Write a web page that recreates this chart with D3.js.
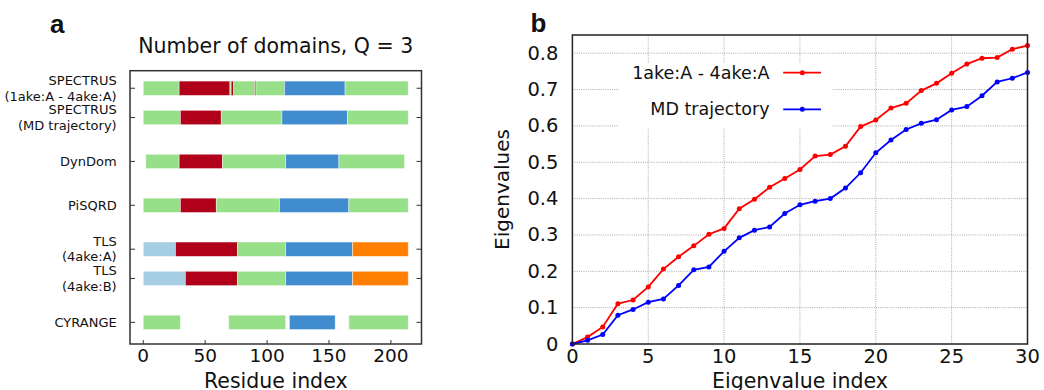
<!DOCTYPE html>
<html>
<head>
<meta charset="utf-8">
<script src="https://cdn.jsdelivr.net/npm/d3@7"></script>
<style>
  html, body { margin: 0; padding: 0; background: #fff; }
  svg { display: block; }
  text { font-family: "DejaVu Sans", sans-serif; fill: #111; }
</style>
</head>
<body>
<svg id="fig" width="1044" height="390"></svg>
<script>
// ---- Panel a: domain assignments, segments as [startResidue, endResidue, domain] ----
const methods = [
  ["SPECTRUS", "(1ake:A - 4ake:A)"],
  ["SPECTRUS", "(MD trajectory)"],
  ["DynDom"],
  ["PiSQRD"],
  ["TLS", "(4ake:A)"],
  ["TLS", "(4ake:B)"],
  ["CYRANGE"]
];
const spectrusPair = [[0, 29, "core"], [29, 70, "nmp"], [70, 71, "core"], [71, 73, "nmp"], [73, 90, "core"], [90, 91, "nmp"], [91, 114, "core"], [114, 163, "lid"], [163, 214, "core"]];
const spectrusMD   = [[0, 30, "core"], [30, 63, "nmp"], [63, 112, "core"], [112, 165, "lid"], [165, 214, "core"]];
const dynDom       = [[2, 29, "core"], [29, 64, "nmp"], [64, 115, "core"], [115, 158, "lid"], [158, 211, "core"]];
const piSQRD       = [[0, 30, "core"], [30, 59, "nmp"], [59, 110, "core"], [110, 166, "lid"], [166, 214, "core"]];
const tlsA         = [[0, 26, "tlsN"], [26, 76, "nmp"], [76, 115, "core"], [115, 169, "lid"], [169, 214, "tlsC"]];
const tlsB         = [[0, 34, "tlsN"], [34, 76, "nmp"], [76, 115, "core"], [115, 169, "lid"], [169, 214, "tlsC"]];
const cyrange      = [[0, 30, "core"], [69, 115, "core"], [118, 155, "lid"], [166, 214, "core"]];
const residueTicks = [0, 50, 100, 150, 200];

// ---- Panel b: eigenvalue spectra ----
const eigIndex = d3.range(0, 31);
const eigPair = [0, 0.019, 0.047, 0.111, 0.121, 0.157, 0.206, 0.240, 0.270, 0.302, 0.318, 0.372, 0.398, 0.431, 0.455, 0.480, 0.517, 0.521, 0.544, 0.598, 0.616, 0.649, 0.662, 0.697, 0.717, 0.745, 0.770, 0.786, 0.788, 0.811, 0.821];
const eigMD   = [0, 0.010, 0.026, 0.079, 0.095, 0.115, 0.124, 0.161, 0.204, 0.212, 0.255, 0.292, 0.313, 0.322, 0.359, 0.383, 0.393, 0.400, 0.429, 0.471, 0.526, 0.561, 0.590, 0.607, 0.617, 0.644, 0.653, 0.683, 0.721, 0.731, 0.747];
const eigXTicks = [0, 5, 10, 15, 20, 25, 30];
const eigYTicks = [0, 0.1, 0.2, 0.3, 0.4, 0.5, 0.6, 0.7, 0.8];
const seriesNames = ["1ake:A - 4ake:A", "MD trajectory"];

const svg = d3.select("#fig");

// ================= Panel a =================
{
  const rows = [spectrusPair, spectrusMD, dynDom, piSQRD, tlsA, tlsB, cyrange];
  const rowSlot = [0, 2, 5, 8, 11, 13, 16];   // vertical slot of each method row
  const domainColor = {
    core: "#98df8a", nmp: "#b0001a", lid: "#418cce", tlsN: "#a6cee3", tlsC: "#ff7f00"
  };
  const L = 130, R = 421.5, T = 70.7, B = 344;
  const x = d3.scaleLinear().domain([-10.7, 224.7]).range([L, R]);
  const y = d3.scaleLinear().domain([-1.2, 17.48]).range([T, B]);
  const g = svg.append("g");

  rows.forEach((segs, i) => {
    g.selectAll(null).data(segs).enter().append("rect")
      .attr("x", d => x(d[0]))
      .attr("width", d => x(d[1]) - x(d[0]))
      .attr("y", y(rowSlot[i] - 0.49))
      .attr("height", y(rowSlot[i] + 0.49) - y(rowSlot[i] - 0.49))
      .attr("fill", d => domainColor[d[2]])
      .attr("stroke", "#fff").attr("stroke-opacity", 0.55).attr("stroke-width", 0.8);
  });

  // frame
  g.append("rect").attr("x", L).attr("y", T).attr("width", R - L).attr("height", B - T)
    .attr("fill", "none").attr("stroke", "#333").attr("stroke-width", 1.5);

  // inward ticks
  rowSlot.forEach(s => {
    g.append("line").attr("x1", L).attr("x2", L + 5).attr("y1", y(s)).attr("y2", y(s)).attr("stroke", "#333");
    g.append("line").attr("x1", R - 5).attr("x2", R).attr("y1", y(s)).attr("y2", y(s)).attr("stroke", "#333");
  });
  residueTicks.forEach(t => {
    g.append("line").attr("x1", x(t)).attr("x2", x(t)).attr("y1", B - 4).attr("y2", B).attr("stroke", "#333");
    g.append("text").attr("x", x(t)).attr("y", 361.7).attr("text-anchor", "middle")
      .attr("font-size", 18.5).text(t);
  });

  // method labels
  methods.forEach((lines, i) => {
    const cy = y(rowSlot[i]);
    const lh = 15.6;
    const t = g.append("text").attr("text-anchor", "end").attr("font-size", 13);
    lines.forEach((ln, k) => {
      t.append("tspan").attr("x", 116.7)
        .attr("y", cy + (k - (lines.length - 1) / 2) * lh)
        .attr("dominant-baseline", "central").text(ln);
    });
  });

  g.append("text").attr("x", (L + R) / 2).attr("y", 53).attr("text-anchor", "middle")
    .attr("font-size", 20.5).text("Number of domains, Q = 3");
  g.append("text").attr("x", (L + R) / 2).attr("y", 387.5).attr("text-anchor", "middle")
    .attr("font-size", 20.5).text("Residue index");
  g.append("text").attr("x", 50).attr("y", 33).attr("font-size", 26).attr("font-weight", "bold")
    .style("font-family", "'Liberation Sans', Arial, sans-serif").text("a");
}

// ================= Panel b =================
{
  const L = 572.4, R = 1027.5, T = 35, B = 344;
  const x = d3.scaleLinear().domain([0, 30]).range([L, R]);
  const y = d3.scaleLinear().domain([0, 0.85]).range([B, T]);
  const g = svg.append("g");
  const gridStyle = sel => sel.attr("stroke", "#aaa").attr("stroke-width", 1).attr("stroke-dasharray", "1,1.2");

  g.selectAll(null).data(eigXTicks.slice(1, -1)).enter().append("line")
    .attr("x1", d => x(d)).attr("x2", d => x(d)).attr("y1", T).attr("y2", B).call(gridStyle);
  g.selectAll(null).data(eigYTicks.slice(1)).enter().append("line")
    .attr("x1", L).attr("x2", R).attr("y1", d => y(d)).attr("y2", d => y(d)).call(gridStyle);

  const series = [
    { name: seriesNames[0], values: eigPair, color: "#ff0000" },
    { name: seriesNames[1], values: eigMD, color: "#0000ff" }
  ];
  const line = d3.line().x((d, i) => x(eigIndex[i])).y(d => y(d));
  series.forEach(s => {
    g.append("path").attr("d", line(s.values)).attr("fill", "none")
      .attr("stroke", s.color).attr("stroke-width", 1.8);
    g.selectAll(null).data(s.values).enter().append("circle")
      .attr("cx", (d, i) => x(eigIndex[i])).attr("cy", d => y(d)).attr("r", 2.5)
      .attr("fill", s.color);
  });

  // legend
  g.append("rect").attr("x", 618.5).attr("y", 63).attr("width", 214).attr("height", 65).attr("fill", "#fff");
  series.forEach((s, i) => {
    const cy = 72.7 + i * 36.6;
    g.append("text").attr("x", 769.6).attr("y", cy).attr("text-anchor", "end")
      .attr("dominant-baseline", "central").attr("font-size", 17.5).text(s.name);
    g.append("line").attr("x1", 783.2).attr("x2", 821).attr("y1", cy).attr("y2", cy)
      .attr("stroke", s.color).attr("stroke-width", 1.8);
    g.append("circle").attr("cx", 802.3).attr("cy", cy).attr("r", 2.5).attr("fill", s.color);
  });

  g.append("rect").attr("x", L).attr("y", T).attr("width", R - L).attr("height", B - T)
    .attr("fill", "none").attr("stroke", "#222").attr("stroke-width", 1.5);

  eigXTicks.forEach(t => {
    g.append("text").attr("x", x(t)).attr("y", 363.3).attr("text-anchor", "middle")
      .attr("font-size", 19.5).text(t);
  });
  eigYTicks.forEach(t => {
    g.append("text").attr("x", 558.4).attr("y", y(t)).attr("text-anchor", "end")
      .attr("dominant-baseline", "central").attr("font-size", 19.5).text(t === 0 ? "0" : d3.format(".1f")(t));
  });

  g.append("text").attr("x", (L + R) / 2).attr("y", 387.5).attr("text-anchor", "middle")
    .attr("font-size", 20.5).text("Eigenvalue index");
  g.append("text").attr("transform", `translate(508.8,${(T + B) / 2}) rotate(-90)`)
    .attr("text-anchor", "middle").attr("font-size", 20).text("Eigenvalues");
  g.append("text").attr("x", 530.4).attr("y", 32.3).attr("font-size", 26).attr("font-weight", "bold")
    .style("font-family", "'Liberation Sans', Arial, sans-serif").text("b");
}
</script>
</body>
</html>
